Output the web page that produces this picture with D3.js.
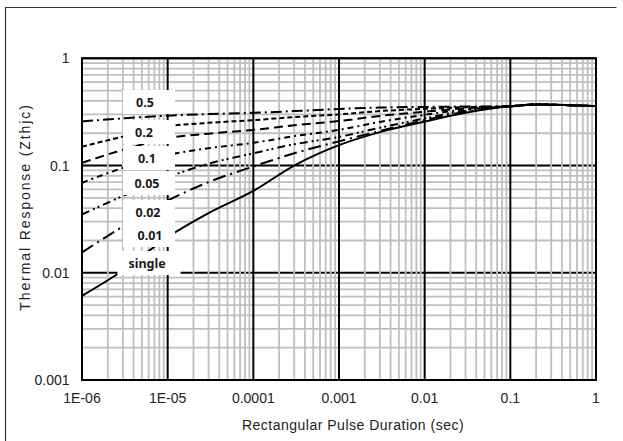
<!DOCTYPE html>
<html><head><meta charset="utf-8">
<script src="https://cdn.jsdelivr.net/npm/d3@7"></script>
<style>body{margin:0;background:#fff} svg{display:block}</style>
</head><body>
<svg id="chart" width="623" height="441"></svg>
<script>
// ---- data ----
const pulseDurations = [1e-6, 3e-6, 1e-5, 3e-5, 1e-4, 3e-4, 1e-3, 3e-3, 1e-2, 3e-2, 0.1, 0.2, 0.5, 1];
const dutyCycles = ["0.5", "0.2", "0.1", "0.05", "0.02", "0.01", "single"];
const zthD05    = [0.258, 0.275, 0.292, 0.302, 0.310, 0.322, 0.337, 0.347, 0.352, 0.355, 0.357, 0.371, 0.365, 0.358];
const zthD02    = [0.150, 0.186, 0.232, 0.250, 0.265, 0.283, 0.300, 0.322, 0.338, 0.350, 0.357, 0.371, 0.365, 0.358];
const zthD01    = [0.106, 0.140, 0.180, 0.198, 0.215, 0.237, 0.260, 0.290, 0.318, 0.342, 0.357, 0.371, 0.365, 0.358];
const zthD005   = [0.069, 0.095, 0.125, 0.145, 0.163, 0.188, 0.215, 0.255, 0.297, 0.333, 0.357, 0.371, 0.365, 0.358];
const zthD002   = [0.035, 0.052, 0.078, 0.104, 0.130, 0.158, 0.185, 0.225, 0.275, 0.325, 0.357, 0.371, 0.365, 0.358];
const zthD001   = [0.0155, 0.027, 0.047, 0.070, 0.098, 0.130, 0.168, 0.210, 0.265, 0.318, 0.357, 0.371, 0.365, 0.358];
const zthSingle = [0.0061, 0.0105, 0.0215, 0.036, 0.058, 0.100, 0.155, 0.205, 0.257, 0.310, 0.357, 0.371, 0.365, 0.358];
const xTickValues = [1e-6, 1e-5, 1e-4, 1e-3, 1e-2, 0.1, 1];
const xTickLabels = ["1E-06", "1E-05", "0.0001", "0.001", "0.01", "0.1", "1"];
const yTickValues = [0.001, 0.01, 0.1, 1];
const yTickLabels = ["0.001", "0.01", "0.1", "1"];

// ---- styles ----
const seriesValues = [zthD05, zthD02, zthD01, zthD005, zthD002, zthD001, zthSingle];
const dashStyles = ["11,4,2,4", "5,3", "9,5", "6,4,2,4", "8,4,2,3,2,4", "13,5,2,5", null];
const labelCenters = [[145,102],[144,132],[147,158],[147,183],[148,212],[150,235],[147,263]];

const svg = d3.select("#chart");
const L = 82, R = 596, T = 58.3, B = 380;
const x = d3.scaleLog().domain([1e-6, 1]).range([L, R]);
const y = d3.scaleLog().domain([0.001, 1]).range([B, T]);

svg.append("rect").attr("width", 623).attr("height", 441).attr("fill", "#fff");
// outer frame
svg.append("path").attr("d", "M5.5,441 L5.5,7.5 L616.5,7.5").attr("fill", "none").attr("stroke", "#333").attr("stroke-width", 1.2);

const g = svg.append("g");
const minorY = y.ticks().filter(v => !yTickValues.includes(v));
const minorX = x.ticks().filter(v => !xTickValues.some(t => Math.abs(t - v) / v < 1e-9));

g.selectAll(".hminor").data(minorY).join("line")
  .attr("x1", L).attr("x2", R).attr("y1", d => y(d)).attr("y2", d => y(d))
  .attr("stroke", "#bfbfbf").attr("stroke-width", 1.8);
g.selectAll(".hmajor").data(yTickValues).join("line")
  .attr("x1", L).attr("x2", R).attr("y1", d => y(d)).attr("y2", d => y(d))
  .attr("stroke", "#000").attr("stroke-width", 2);
g.selectAll(".vminor").data(minorX).join("line")
  .attr("y1", T).attr("y2", B).attr("x1", d => x(d)).attr("x2", d => x(d))
  .attr("stroke", "#bfbfbf").attr("stroke-width", 1.8);
g.selectAll(".vmajor").data(xTickValues).join("line")
  .attr("y1", T).attr("y2", B).attr("x1", d => x(d)).attr("x2", d => x(d))
  .attr("stroke", "#000").attr("stroke-width", 2);

// curves
const line = d3.line().x(d => x(d[0])).y(d => y(d[1])).curve(d3.curveMonotoneX);
seriesValues.forEach((vals, i) => {
  svg.append("path")
    .datum(pulseDurations.map((t, j) => [t, vals[j]]))
    .attr("d", line).attr("fill", "none").attr("stroke", "#000")
    .attr("stroke-width", 2)
    .attr("stroke-dasharray", dashStyles[i]);
});

// label boxes
dutyCycles.forEach((lab, i) => {
  const [cx, cy] = labelCenters[i];
  const t = svg.append("text").attr("x", cx).attr("y", cy).attr("dy", "0.36em")
    .attr("text-anchor", "middle").attr("font-family", "Noto Sans, DejaVu Sans, sans-serif")
    .attr("font-weight", "bold").attr("font-size", 12.5).attr("fill", "#1a1a1a").text(lab);
  const bb = t.node().getBBox();
  const w = Math.max(52, bb.width + 26);
  svg.insert("rect", () => t.node())
    .attr("x", 149 - w / 2).attr("y", cy - 12).attr("width", w).attr("height", 24)
    .attr("fill", "#fff");
});

// plot border
svg.append("rect").attr("x", L).attr("y", T).attr("width", R - L).attr("height", B - T)
  .attr("fill", "none").attr("stroke", "#000").attr("stroke-width", 2);

// tick labels
const font = "Liberation Sans, Arial, sans-serif";
svg.selectAll(".xl").data(xTickValues).join("text")
  .attr("x", d => x(d)).attr("y", 403).attr("text-anchor", "middle")
  .attr("font-family", font).attr("font-size", 14).attr("fill", "#222")
  .text((d, i) => xTickLabels[i]);
svg.selectAll(".yl").data(yTickValues).join("text")
  .attr("x", 69.5).attr("y", d => y(d)).attr("dy", "0.36em").attr("text-anchor", "end")
  .attr("font-family", font).attr("font-size", 14).attr("fill", "#222")
  .text((d, i) => yTickLabels[i]);

// axis titles
svg.append("text").attr("x", 353).attr("y", 430).attr("text-anchor", "middle")
  .attr("font-family", font).attr("font-size", 14).attr("letter-spacing", 0.5).attr("fill", "#222")
  .text("Rectangular Pulse Duration (sec)");
svg.append("text").attr("transform", "translate(30,207) rotate(-90)").attr("text-anchor", "middle")
  .attr("font-family", font).attr("font-size", 14).attr("letter-spacing", 1.9).attr("fill", "#222")
  .text("Thermal Response (Zthjc)");
</script>
</body></html>
